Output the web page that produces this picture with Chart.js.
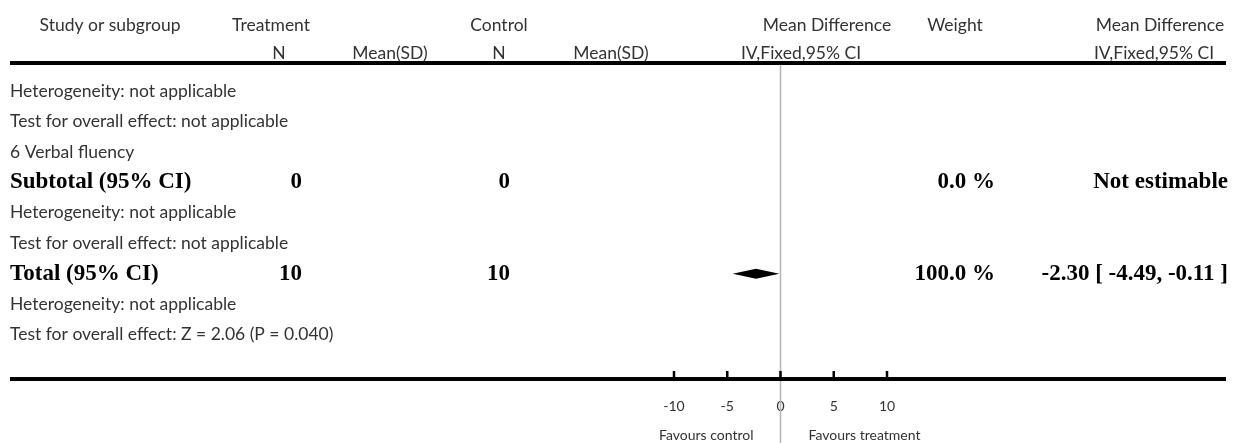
<!DOCTYPE html>
<html><head><meta charset="utf-8">
<script src="https://cdn.jsdelivr.net/npm/chart.js@4/dist/chart.umd.min.js"></script>
<style>html,body{margin:0;padding:0;background:#fff;}#wrap{width:1234px;height:443px;position:relative;}</style>
</head><body><div id="wrap"><canvas id="c" width="1234" height="443"></canvas></div>
<script>
// ---- data ----
const headerLine1 = ["Study or subgroup", "Treatment", "Control", "Mean Difference", "Weight", "Mean Difference"];
const headerLine2 = ["N", "Mean(SD)", "N", "Mean(SD)", "IV,Fixed,95% CI", "IV,Fixed,95% CI"];
const rowLabels = [
  "Heterogeneity: not applicable",
  "Test for overall effect: not applicable",
  "6 Verbal fluency",
  "Subtotal (95% CI)",
  "Heterogeneity: not applicable",
  "Test for overall effect: not applicable",
  "Total (95% CI)",
  "Heterogeneity: not applicable",
  "Test for overall effect: Z = 2.06 (P = 0.040)"
];
const rowBold = [false, false, false, true, false, false, true, false, false];
const treatmentN = [null, null, null, "0", null, null, "10", null, null];
const controlN = [null, null, null, "0", null, null, "10", null, null];
const weightText = [null, null, null, "0.0 %", null, null, "100.0 %", null, null];
const effectText = [null, null, null, "Not estimable", null, null, "-2.30 [ -4.49, -0.11 ]", null, null];
const diamondMean = [null, null, null, null, null, null, -2.30, null, null];
const diamondLow = [null, null, null, null, null, null, -4.49, null, null];
const diamondHigh = [null, null, null, null, null, null, -0.11, null, null];
const xTicks = [-10, -5, 0, 5, 10];
const favoursLeft = "Favours control";
const favoursRight = "Favours treatment";

// ---- style ----
const SANS = "Lato, 'Open Sans', sans-serif";
const SERIF = "'Liberation Serif', serif";
const sansFont = "17.5px " + SANS;
const boldFont = "bold 23px " + SERIF;
const textGrey = "#333";

const forestPlugin = {
  id: 'forest',
  afterDraw(chart) {
    const ctx = chart.ctx;
    const xs = chart.scales.x, ys = chart.scales.y;
    const W = chart.width;
    ctx.save();
    // zero line
    const x0 = xs.getPixelForValue(0);
    ctx.strokeStyle = "#b5b5b5"; ctx.lineWidth = 1.5;
    ctx.beginPath(); ctx.moveTo(x0, 65); ctx.lineTo(x0, chart.height); ctx.stroke();
    // top & bottom rules
    ctx.fillStyle = "#000";
    ctx.fillRect(10, 61, W - 18, 4);
    ctx.fillRect(10, chart.chartArea.bottom - 2, W - 18, 4);
    // ticks
    ctx.strokeStyle = "#000"; ctx.lineWidth = 2.5;
    xTicks.forEach(v => {
      const px = xs.getPixelForValue(v);
      ctx.beginPath(); ctx.moveTo(px, chart.chartArea.bottom - 8); ctx.lineTo(px, chart.chartArea.bottom); ctx.stroke();
    });
    // headers
    ctx.fillStyle = textGrey; ctx.font = sansFont; ctx.textBaseline = "middle";
    const h1x = [110, 271, 499, 827, 955, 1160];
    ctx.textAlign = "center";
    headerLine1.forEach((t, i) => ctx.fillText(t, h1x[i], 25));
    const h2x = [279, 390, 499, 611, 801, 1154];
    headerLine2.forEach((t, i) => ctx.fillText(t, h2x[i], 53));
    // rows
    rowLabels.forEach((t, i) => {
      const py = ys.getPixelForValue(i);
      ctx.textAlign = "left";
      if (rowBold[i]) { ctx.font = boldFont; ctx.fillStyle = "#000"; }
      else { ctx.font = sansFont; ctx.fillStyle = textGrey; }
      ctx.fillText(t, 10, py);
      ctx.font = boldFont; ctx.fillStyle = "#000"; ctx.textAlign = "right";
      if (treatmentN[i] !== null) ctx.fillText(treatmentN[i], 302, py);
      if (controlN[i] !== null) ctx.fillText(controlN[i], 510, py);
      if (weightText[i] !== null) ctx.fillText(weightText[i], 995, py);
      if (effectText[i] !== null) ctx.fillText(effectText[i], 1228, py);
      if (diamondMean[i] !== null) {
        const xl = xs.getPixelForValue(diamondLow[i]);
        const xm = xs.getPixelForValue(diamondMean[i]);
        const xh = xs.getPixelForValue(diamondHigh[i]);
        ctx.beginPath();
        ctx.moveTo(xl, py); ctx.lineTo(xm, py - 5); ctx.lineTo(xh, py); ctx.lineTo(xm, py + 5); ctx.closePath();
        ctx.fill();
      }
    });
    // favours
    ctx.font = "14px " + SANS; ctx.fillStyle = textGrey;
    ctx.textAlign = "right"; ctx.fillText(favoursLeft, x0 - 27, 435);
    ctx.textAlign = "left"; ctx.fillText(favoursRight, x0 + 28, 435);
    ctx.restore();
  }
};

new Chart(document.getElementById('c'), {
  type: 'scatter',
  data: { datasets: [{ data: [], showLine: false }] },
  options: {
    responsive: false,
    animation: false,
    events: [],
    layout: { padding: { left: 674, right: 347, top: 65, bottom: 29 } },
    plugins: { legend: { display: false }, tooltip: { enabled: false } },
    scales: {
      x: {
        type: 'linear', min: -10, max: 10,
        afterBuildTicks: s => { s.ticks = xTicks.map(v => ({ value: v })); },
        grid: { display: false, drawTicks: false },
        border: { display: false },
        ticks: { padding: 19, color: textGrey, font: { family: SANS, size: 14 } },
        afterFit: s => { s.height = 35; }
      },
      y: { type: 'linear', display: false, reverse: true, min: -0.85, max: 9.45 }
    }
  },
  plugins: [forestPlugin]
});
</script></body></html>
